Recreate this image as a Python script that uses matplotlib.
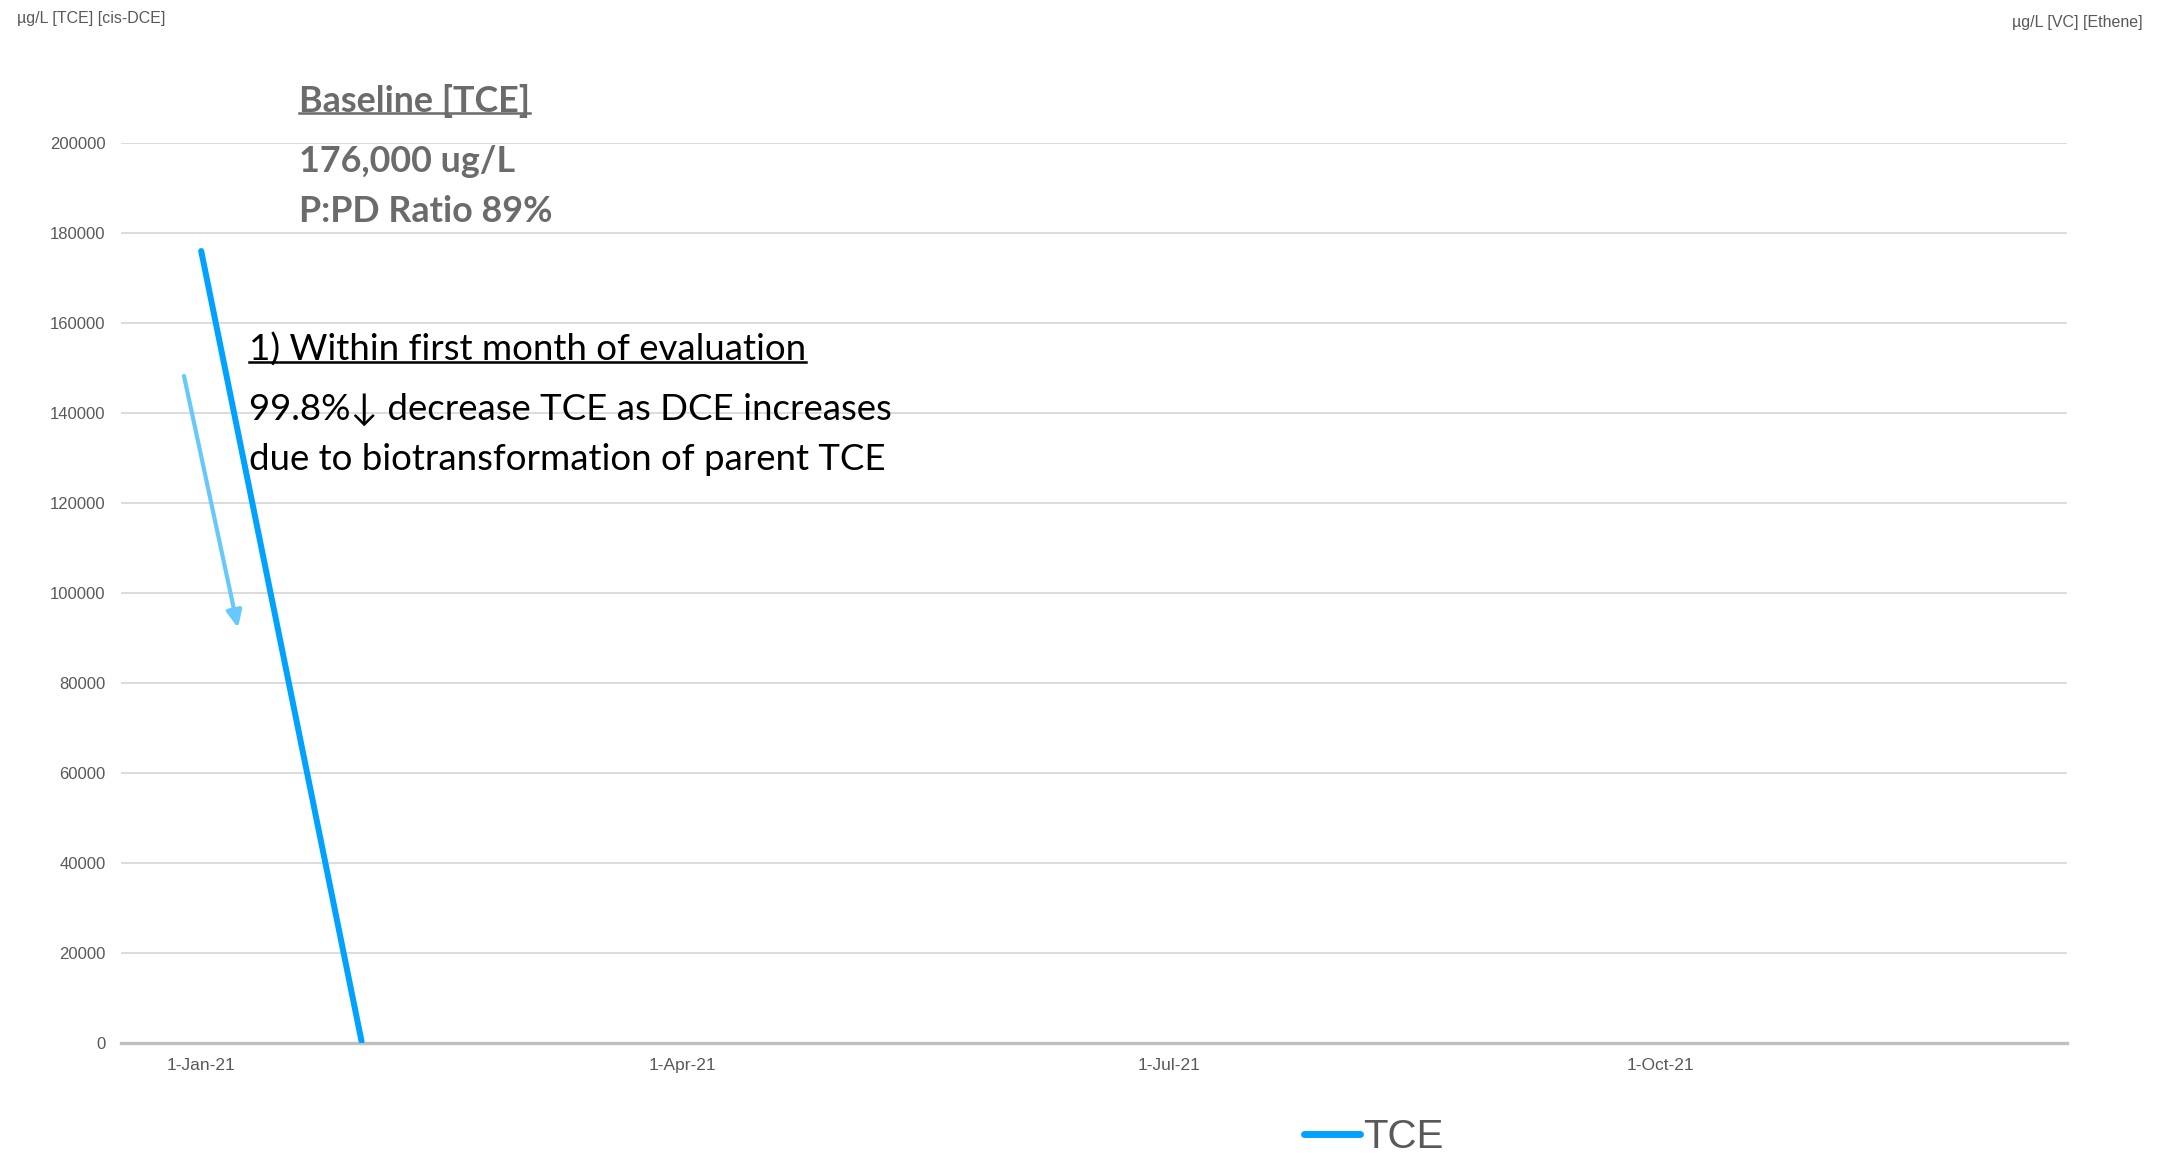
import datetime as dt

import matplotlib
matplotlib.use("Agg")
import matplotlib.pyplot as plt
from matplotlib.lines import Line2D

W, H = 2160, 1153

# data
dates = [dt.date(2021, 1, 1), dt.date(2021, 1, 31)]
tce = [176000, 352]
x_ticks = [dt.date(2021, 1, 1), dt.date(2021, 4, 1), dt.date(2021, 7, 1), dt.date(2021, 10, 1)]
x_tick_labels = ["1-Jan-21", "1-Apr-21", "1-Jul-21", "1-Oct-21"]
y_ticks = list(range(0, 200001, 20000))

TCE_BLUE = "#00a2ff"
ARROW_BLUE = "#66c8ff"
AXIS_GRAY = "#595959"
HEAD_GRAY = "#6b6b6b"
BODY_FONT = ["Lato", "DejaVu Sans"]
AXIS_FONT = ["Liberation Sans", "DejaVu Sans"]


def fx(px):
    return px / W


def fy(py):
    return 1 - py / H


fig = plt.figure(figsize=(W / 100, H / 100), dpi=100)
ax = fig.add_axes([fx(121), fy(1043), fx(2067 - 121), (1043 - 143) / H])

ax.plot(dates, tce, color=TCE_BLUE, linewidth=4.3, solid_capstyle="round", label="TCE",
        zorder=3)

ax.set_xlim(dt.date(2020, 12, 17), dt.date(2021, 12, 16))
ax.set_ylim(0, 200000)
ax.set_xticks(x_ticks)
ax.set_xticklabels(x_tick_labels)
ax.set_yticks(y_ticks)
ax.set_yticklabels([str(v) for v in y_ticks])
for lab in ax.get_xticklabels():
    lab.set_family(AXIS_FONT)
    lab.set_fontsize(12.5)
    lab.set_color(AXIS_GRAY)
for lab in ax.get_yticklabels():
    lab.set_family(AXIS_FONT)
    lab.set_fontsize(12)
    lab.set_color(AXIS_GRAY)
ax.tick_params(axis="y", length=0, pad=11)
ax.tick_params(axis="x", length=0, pad=11)
ax.grid(axis="y", color="#d9d9d9", linewidth=1.3)
ax.set_axisbelow(True)
for side in ("left", "right", "top"):
    ax.spines[side].set_visible(False)
ax.spines["bottom"].set_color("#bfbfbf")
ax.spines["bottom"].set_linewidth(2.4)
ax.spines["bottom"].set_zorder(2)

# axis titles at the corners
fig.text(fx(17), fy(18), "\u00b5g/L [TCE] [cis-DCE]", family=AXIS_FONT, fontsize=11.5,
         color=AXIS_GRAY, ha="left", va="center")
fig.text(fx(2143), fy(23), "\u00b5g/L [VC] [Ethene]", family=AXIS_FONT, fontsize=11.5,
         color=AXIS_GRAY, ha="right", va="center")

# baseline box
t_base = fig.text(fx(299), fy(101), "Baseline [TCE]", family=BODY_FONT, fontsize=25.8,
                  fontweight="bold", color=HEAD_GRAY, va="center")
fig.text(fx(299), fy(161), "176,000 ug/L", family=BODY_FONT, fontsize=25.8,
         fontweight="bold", color=HEAD_GRAY, va="center")
fig.text(fx(299), fy(211), "P:PD Ratio 89%", family=BODY_FONT, fontsize=25.8,
         fontweight="bold", color=HEAD_GRAY, va="center")

# observation note
t_note = fig.text(fx(249), fy(350), "1) Within first month of evaluation", family=BODY_FONT,
                  fontsize=26.4, color="black", va="center")
fig.text(fx(249), fy(409), "99.8%\u2193 decrease TCE as DCE increases", family=BODY_FONT,
         fontsize=26.4, color="black", va="center")
fig.text(fx(249), fy(460), "due to biotransformation of parent TCE", family=BODY_FONT,
         fontsize=26.4, color="black", va="center")

ax.annotate("", xy=(fx(238), fy(628)), xytext=(fx(184), fy(376)),
            xycoords="figure fraction", textcoords="figure fraction",
            arrowprops=dict(arrowstyle="-|>,head_length=1.0,head_width=0.45",
                            color=ARROW_BLUE, linewidth=3, shrinkA=0, shrinkB=0))

leg = ax.legend(loc="center", bbox_to_anchor=(fx(1374), fy(1137)),
                bbox_transform=fig.transFigure, frameon=False, handlelength=1.4,
                handletextpad=0.08, prop={"family": AXIS_FONT, "size": 29})
for t in leg.get_texts():
    t.set_color(AXIS_GRAY)
for h in leg.get_lines():
    h.set_linewidth(5)

# underline the two headings
fig.canvas.draw()
renderer = fig.canvas.get_renderer()
for t, col in ((t_base, HEAD_GRAY), (t_note, "black")):
    bb = t.get_window_extent(renderer).transformed(fig.transFigure.inverted())
    y = bb.y0 + 0.15 * bb.height
    fig.add_artist(Line2D([bb.x0, bb.x1], [y, y], transform=fig.transFigure,
                          color=col, linewidth=1.8))

fig.savefig("out.png", dpi=100)
